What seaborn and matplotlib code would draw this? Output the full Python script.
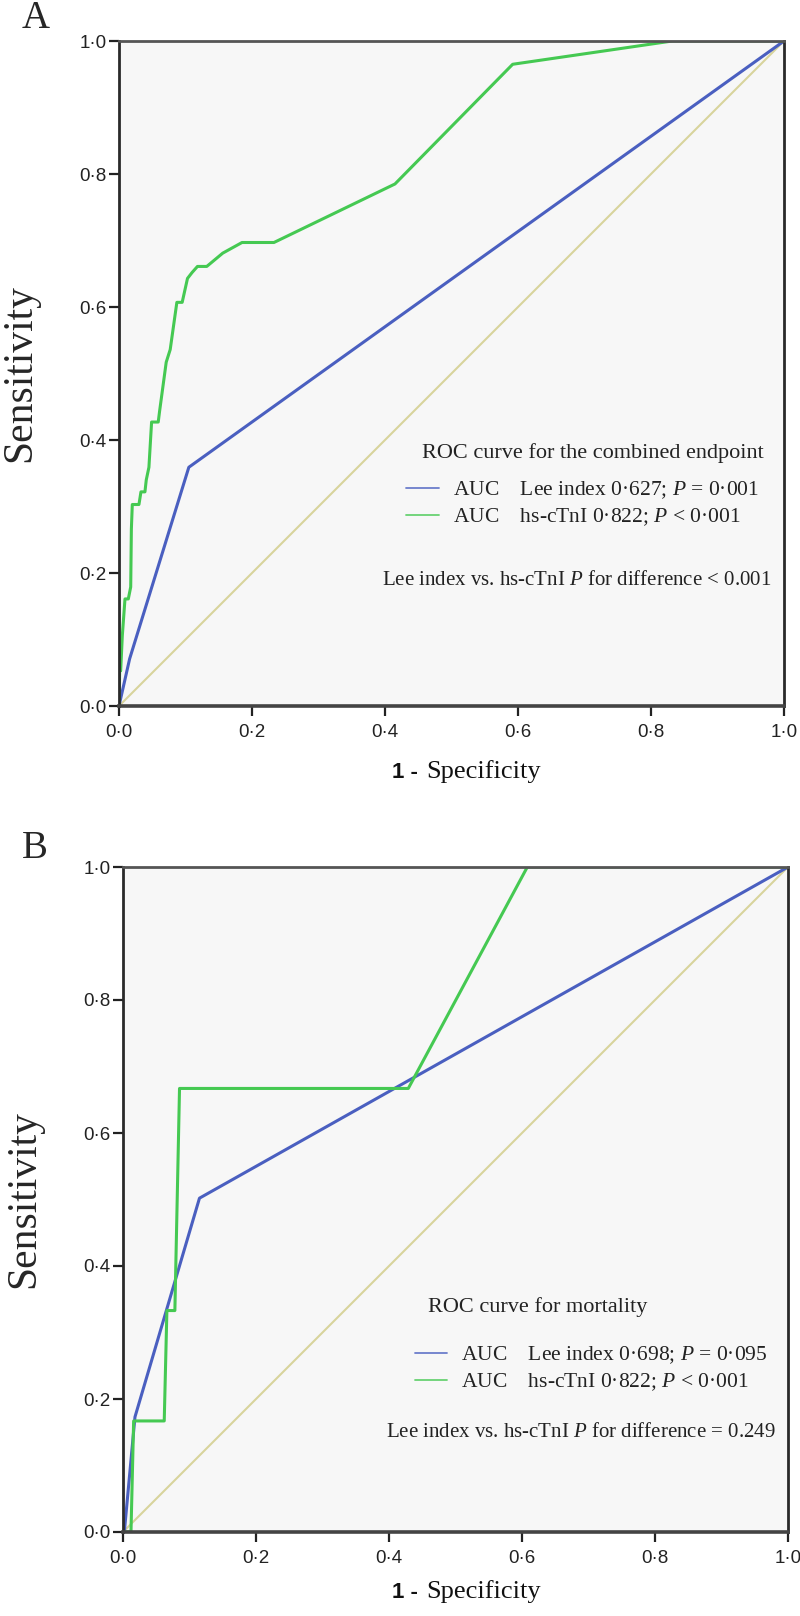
import matplotlib
matplotlib.use("Agg")
import matplotlib.pyplot as plt
import seaborn as sns
import pandas as pd
from matplotlib.lines import Line2D

sns.set_style("ticks")
plt.rcParams['font.family'] = ['Liberation Serif', 'DejaVu Serif']
plt.rcParams['mathtext.fontset'] = 'custom'
plt.rcParams['mathtext.rm'] = 'Liberation Serif'
plt.rcParams['mathtext.it'] = 'Liberation Serif:italic'

# Panel A - combined endpoint
a_lee_fpr = [0, 0.016, 0.105, 1.0]
a_lee_tpr = [0, 0.071, 0.359, 1.0]
a_tni_fpr = [0, 0.001, 0.0025, 0.005, 0.009, 0.014, 0.0176, 0.0186, 0.020, 0.030, 0.033,
             0.039, 0.041, 0.045, 0.049, 0.059, 0.061, 0.071, 0.077, 0.087, 0.095, 0.103,
             0.110, 0.118, 0.132, 0.156, 0.185, 0.233, 0.415, 0.592, 0.832, 1.0]
a_tni_tpr = [0, 0.053, 0.053, 0.106, 0.161, 0.161, 0.179, 0.266, 0.303, 0.303, 0.322,
             0.322, 0.340, 0.359, 0.427, 0.427, 0.443, 0.517, 0.536, 0.607, 0.607, 0.643,
             0.652, 0.661, 0.661, 0.681, 0.697, 0.697, 0.785, 0.965, 1.0, 1.0]

# Panel B - mortality
b_lee_fpr = [0, 0.002, 0.018, 0.115, 1.0]
b_lee_tpr = [0, 0.0, 0.173, 0.502, 1.0]
b_tni_fpr = [0, 0.012, 0.016, 0.062, 0.066, 0.078, 0.085, 0.429, 0.608, 1.0]
b_tni_tpr = [0, 0.0, 0.167, 0.167, 0.333, 0.333, 0.667, 0.667, 1.0, 1.0]

ref_line = [0, 1]
tick_vals = [0, 0.2, 0.4, 0.6, 0.8, 1.0]
tick_labels = ['0·0', '0·2', '0·4', '0·6', '0·8', '1·0']

titles = ['ROC curve for the combined endpoint', 'ROC curve for mortality']
lee_labels = ['AUC    Lee index 0·627; $\\mathit{P}$ = 0·001',
              'AUC    Lee index 0·698; $\\mathit{P}$ = 0·095']
tni_labels = ['AUC    hs-cTnI 0·822; $\\mathit{P}$ < 0·001',
              'AUC    hs-cTnI 0·822; $\\mathit{P}$ < 0·001']
diff_labels = ['Lee index vs. hs-cTnI $\\mathit{P}$ for difference < 0.001',
               'Lee index vs. hs-cTnI $\\mathit{P}$ for difference = 0.249']

BLUE = '#4a5fc0'
GREEN = '#45c952'
KHAKI = '#d8d49c'

fig = plt.figure(figsize=(8, 16.16), dpi=100)
ax_a = fig.add_axes([119 / 800, 1 - 706 / 1616, 665 / 800, 665 / 1616])
ax_b = fig.add_axes([123 / 800, 1 - 1532 / 1616, 665 / 800, 665 / 1616])

panels = [
    (ax_a, a_lee_fpr, a_lee_tpr, a_tni_fpr, a_tni_tpr),
    (ax_b, b_lee_fpr, b_lee_tpr, b_tni_fpr, b_tni_tpr),
]
# text anchors in axes fraction: title, legend, diff, xlabel
layout = [
    dict(title=(0.456, 0.380), leg=(0.432, 0.304), diff=(0.395, 0.189), xl=(0.450, 0.462, -0.108)),
    dict(title=(0.459, 0.338), leg=(0.439, 0.245), diff=(0.395, 0.149), xl=(0.444, 0.456, -0.099)),
]

for i, (ax, lf, lt, tf, tt) in enumerate(panels):
    ax.set_facecolor('#f7f7f7')
    sns.lineplot(x=ref_line, y=ref_line, ax=ax, color=KHAKI, lw=1.5, sort=False, estimator=None)
    sns.lineplot(x=lf, y=lt, ax=ax, color=BLUE, lw=2.2, sort=False, estimator=None)
    sns.lineplot(x=tf, y=tt, ax=ax, color=GREEN, lw=2.2, sort=False, estimator=None)
    ax.set_xlim(0, 1)
    ax.set_ylim(0, 1)
    ax.set_xticks(tick_vals)
    ax.set_xticklabels(tick_labels, family='Liberation Sans', fontsize=13.5)
    ax.set_yticks(tick_vals)
    ax.set_yticklabels(tick_labels, family='Liberation Sans', fontsize=13.5)
    ax.tick_params(axis='both', length=7, width=1.6, color='#222222', labelcolor='#222222')
    ax.tick_params(axis='x', pad=6)
    ax.tick_params(axis='y', pad=2)
    for side in ['left', 'bottom', 'top', 'right']:
        ax.spines[side].set_visible(True)
        ax.spines[side].set_color('#2a2a2a')
        ax.spines[side].set_linewidth(2.0)
    ax.spines['top'].set_color('#555555')
    ax.spines['bottom'].set_color('#444444')
    ax.spines['bottom'].set_linewidth(2.6)

    ax.set_xlabel('')
    ax.set_ylabel('Sensitivity', fontsize=30, labelpad=0)
    ax.yaxis.label.set_va('center')
    ax.yaxis.set_label_coords(-0.149, 0.5)

    lay = layout[i]
    ax.text(lay['xl'][0], lay['xl'][2], '1 -', transform=ax.transAxes, ha='right', va='baseline',
            family='Liberation Sans', fontweight='bold', fontsize=16, color='#111111')
    ax.text(lay['xl'][1], lay['xl'][2], 'Specificity', transform=ax.transAxes, ha='left', va='baseline',
            fontsize=19, color='#111111')

    ax.text(lay['title'][0], lay['title'][1], titles[i], transform=ax.transAxes,
            ha='left', va='center', fontsize=16, color='#222222')
    handles = [Line2D([], [], color=BLUE, lw=1.3, alpha=0.8), Line2D([], [], color=GREEN, lw=1.3, alpha=0.8)]
    ax.legend(handles, [lee_labels[i], tni_labels[i]], loc='center left',
              bbox_to_anchor=lay['leg'], frameon=False, fontsize=15.5,
              handlelength=1.5, handletextpad=0.65, labelspacing=0.25,
              borderpad=0, borderaxespad=0, labelcolor='#222222')
    ax.text(lay['diff'][0], lay['diff'][1], diff_labels[i], transform=ax.transAxes,
            ha='left', va='center', fontsize=15, color='#222222')

fig.text(36 / 800, 1 - 18 / 1616, 'A', ha='center', va='center', fontsize=28)
fig.text(35 / 800, 1 - 848 / 1616, 'B', ha='center', va='center', fontsize=28)

fig.savefig('out.png', dpi=100, facecolor='white')
